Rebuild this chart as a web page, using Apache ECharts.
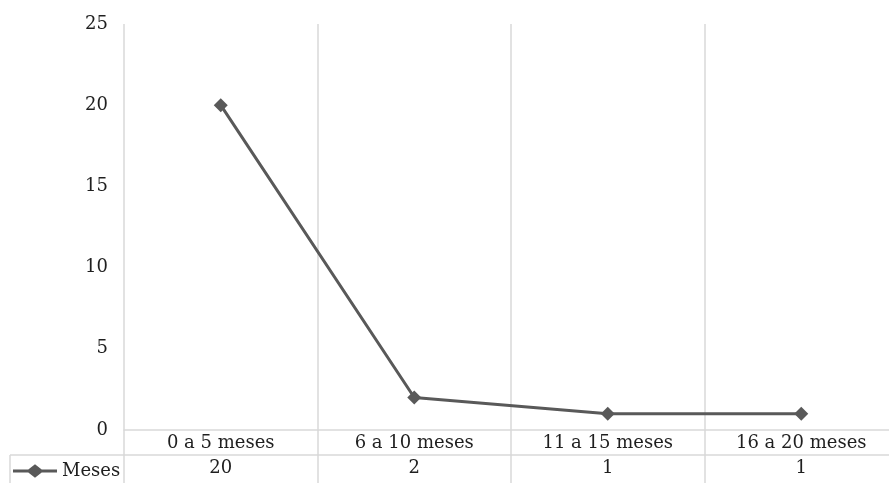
<!DOCTYPE html>
<html>
<head>
<meta charset="utf-8">
<script src="https://cdn.jsdelivr.net/npm/echarts@6/dist/echarts.min.js"></script>
<style>
  html, body { margin: 0; padding: 0; background: #fff; }
  #chart { width: 889px; height: 483px; }
</style>
</head>
<body>
<div id="chart"></div>
<script>
// Duration groups and counts
const categories = ['0 a 5 meses', '6 a 10 meses', '11 a 15 meses', '16 a 20 meses'];
const seriesName = 'Meses';
const values = [20, 2, 1, 1];
const yTicks = { min: 0, max: 25, interval: 5 };

const FONT = 'DejaVu Serif';
const FS = 18;
const TEXT = '#1f1f1f';
const RULE = '#d9d9d9';
const LINE = '#595959';
const ROW_H = 25;

// Legend key: thick line with a diamond in the middle
const KEY_ICON = 'path://M0,5.5H16L23,0L30,5.5H46V8.5H30L23,14L16,8.5H0Z';

const chart = echarts.init(document.getElementById('chart'));

chart.setOption({
  animation: false,
  textStyle: { fontFamily: FONT },
  grid: { left: 124, top: 24, right: -9, bottom: 53, containLabel: false, outerBoundsMode: 'none' },
  legend: {
    data: [{ name: seriesName, icon: KEY_ICON }],
    left: 13,
    top: 462,
    padding: 0,
    itemWidth: 44,
    itemHeight: 14,
    itemGap: 0,
    itemStyle: { color: LINE },
    textStyle: { fontFamily: FONT, fontSize: FS, color: TEXT }
  },
  xAxis: [
    {
      type: 'category',
      data: categories,
      boundaryGap: true,
      axisLine: { show: true, lineStyle: { color: RULE, width: 1.5 } },
      axisTick: { show: true, length: 53, lineStyle: { color: RULE, width: 1.5 } },
      axisLabel: { fontFamily: FONT, fontSize: FS, color: TEXT, margin: 4 },
      splitLine: { show: true, lineStyle: { color: RULE, width: 1.5 } }
    },
    {
      type: 'category',
      position: 'bottom',
      offset: ROW_H,
      data: values.map(String),
      boundaryGap: true,
      axisLine: { show: true, lineStyle: { color: RULE, width: 1.5 } },
      axisTick: { show: false },
      axisLabel: { fontFamily: FONT, fontSize: FS, color: TEXT, margin: 4 },
      splitLine: { show: false }
    }
  ],
  yAxis: {
    type: 'value',
    min: yTicks.min,
    max: yTicks.max,
    interval: yTicks.interval,
    axisLine: { show: false },
    axisTick: { show: false },
    splitLine: { show: false },
    axisLabel: { fontFamily: FONT, fontSize: FS, color: TEXT, margin: 16 }
  },
  series: [
    {
      name: seriesName,
      type: 'line',
      xAxisIndex: 0,
      data: values,
      symbol: 'diamond',
      symbolSize: 14,
      lineStyle: { color: LINE, width: 3 },
      itemStyle: { color: LINE }
    }
  ]
});

// Data-table borders around the legend cell
const baseY = chart.convertToPixel({ yAxisIndex: 0 }, 0);
const leftX = 10;
const rowY = baseY + ROW_H;
chart.setOption({
  graphic: [
    {
      type: 'line',
      shape: { x1: leftX, y1: rowY, x2: 124, y2: rowY },
      style: { stroke: RULE, lineWidth: 1.5 }
    },
    {
      type: 'line',
      shape: { x1: leftX, y1: rowY, x2: leftX, y2: 483 },
      style: { stroke: RULE, lineWidth: 1.5 }
    }
  ]
});
</script>
</body>
</html>
